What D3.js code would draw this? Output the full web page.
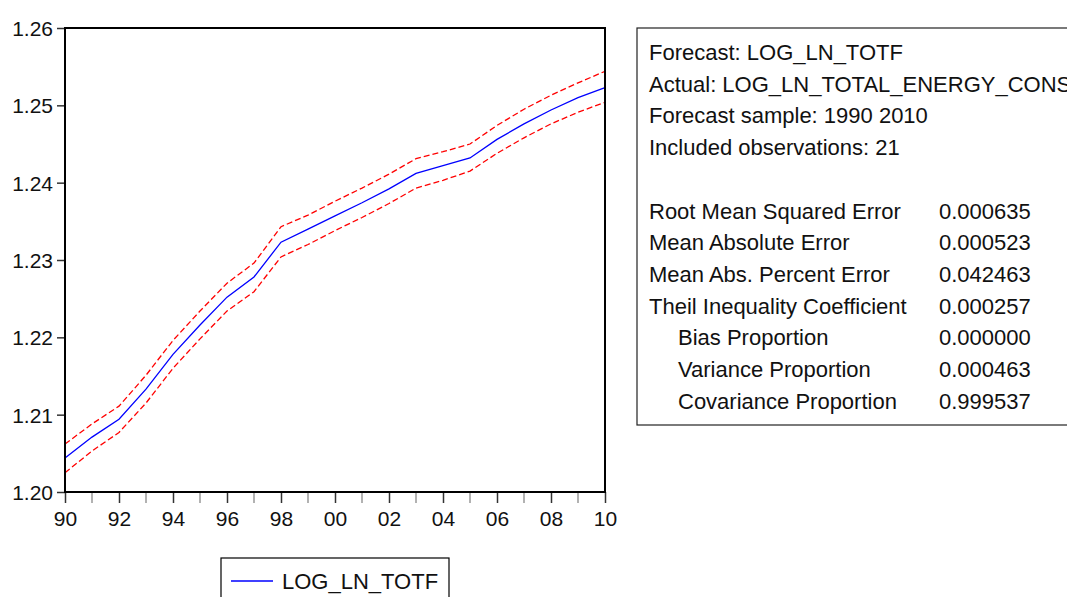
<!DOCTYPE html>
<html>
<head>
    <meta charset="utf-8">
    <title>Forecast LOG_LN_TOTF</title>
    <style>
        body { margin: 0; background: white; }
        svg { display: block; font-family: Arial, "Liberation Sans", sans-serif; }
        .axis path { display: none; }
        .axis line { stroke: #333; stroke-width: 1.5px; }
        .axis text { font-size: 21px; fill: #111; }
        .stats text { font-size: 22px; fill: #111; }
    </style>
    <script src="https://cdn.jsdelivr.net/npm/d3@7/dist/d3.min.js"></script>
</head>
<body>
    <svg width="1067" height="597"></svg>

    <script>
        // forecast and the +/- 2 S.E. band
        const years = d3.range(1990, 2011);
        const forecast = [1.2044, 1.2071, 1.2094, 1.2133, 1.2178, 1.2216, 1.2252, 1.2278, 1.2323, 1.2340, 1.2357,
            1.2374, 1.2392, 1.2412, 1.2422, 1.2432, 1.2456, 1.2476, 1.2494, 1.2510, 1.2523];
        const upper = [1.2062, 1.2088, 1.2111, 1.2151, 1.2196, 1.2234, 1.2270, 1.2296, 1.2343, 1.2358, 1.2376,
            1.2393, 1.2411, 1.2431, 1.2440, 1.2450, 1.2474, 1.2495, 1.2513, 1.2529, 1.2544];
        const lower = [1.2025, 1.2053, 1.2077, 1.2115, 1.2160, 1.2198, 1.2234, 1.2259, 1.2304, 1.2320, 1.2338,
            1.2355, 1.2373, 1.2393, 1.2403, 1.2415, 1.2438, 1.2458, 1.2476, 1.2491, 1.2504];
        const yTicks = [1.20, 1.21, 1.22, 1.23, 1.24, 1.25, 1.26];

        const headerLines = [
            "Forecast: LOG_LN_TOTF",
            "Actual: LOG_LN_TOTAL_ENERGY_CONS",
            "Forecast sample: 1990 2010",
            "Included observations: 21"
        ];
        const statNames = ["Root Mean Squared Error", "Mean Absolute Error", "Mean Abs. Percent Error",
            "Theil Inequality Coefficient", "Bias Proportion", "Variance Proportion", "Covariance Proportion"];
        const statValues = ["0.000635", "0.000523", "0.042463", "0.000257", "0.000000", "0.000463", "0.999537"];
        const statIndent = [false, false, false, false, true, true, true];

        const svg = d3.select("svg");

        const x = d3.scaleLinear().domain([1990, 2010]).range([65, 605]);
        const y = d3.scaleLinear().domain([1.20, 1.26]).range([492, 28]);

        // y axis
        const yAxis = svg.append("g")
            .attr("class", "axis")
            .attr("transform", "translate(65,0)")
            .call(d3.axisLeft(y).tickValues(yTicks).tickSize(8).tickPadding(4).tickFormat(d3.format(".2f")));
        yAxis.selectAll("text").attr("dy", "0.36em");

        // x axis, major ticks every 2 years
        const xAxis = svg.append("g")
            .attr("class", "axis")
            .attr("transform", "translate(0,492)")
            .call(d3.axisBottom(x)
                .tickValues(years.filter(d => d % 2 === 0))
                .tickSize(11).tickPadding(8)
                .tickFormat(d => String(d % 100).padStart(2, "0")));
        xAxis.selectAll("text").attr("dy", "0.71em");

        // minor ticks on odd years
        svg.append("g")
            .selectAll("line")
            .data(years.filter(d => d % 2 === 1))
            .join("line")
            .attr("x1", d => x(d)).attr("x2", d => x(d))
            .attr("y1", 492).attr("y2", 503)
            .attr("stroke", "#999")
            .attr("stroke-width", 1.5);

        const line = d3.line().x((d, i) => x(years[i])).y(d => y(d));

        svg.append("path")
            .datum(upper)
            .attr("d", line)
            .attr("fill", "none")
            .attr("stroke", "#ff0000")
            .attr("stroke-width", 1.3)
            .attr("stroke-dasharray", "6,3");

        svg.append("path")
            .datum(lower)
            .attr("d", line)
            .attr("fill", "none")
            .attr("stroke", "#ff0000")
            .attr("stroke-width", 1.3)
            .attr("stroke-dasharray", "6,3");

        svg.append("path")
            .datum(forecast)
            .attr("d", line)
            .attr("fill", "none")
            .attr("stroke", "#0000ff")
            .attr("stroke-width", 1.3);

        // plot frame
        svg.append("rect")
            .attr("x", x(1990)).attr("y", y(1.26))
            .attr("width", x(2010) - x(1990))
            .attr("height", y(1.20) - y(1.26))
            .attr("fill", "none")
            .attr("stroke", "#000")
            .attr("stroke-width", 2);

        // legend
        const legend = svg.append("g").attr("transform", "translate(221,558)");
        legend.append("rect")
            .attr("width", 228).attr("height", 60)
            .attr("fill", "white")
            .attr("stroke", "#000")
            .attr("stroke-width", 1.2);
        legend.append("line")
            .attr("x1", 10).attr("x2", 52)
            .attr("y1", 23).attr("y2", 23)
            .attr("stroke", "#0000ff")
            .attr("stroke-width", 1.3);
        legend.append("text")
            .attr("x", 61).attr("y", 31)
            .attr("font-size", 22)
            .attr("fill", "#111")
            .text("LOG_LN_TOTF");

        // statistics box
        const stats = svg.append("g").attr("class", "stats");
        stats.append("rect")
            .attr("x", 637).attr("y", 28)
            .attr("width", 460).attr("height", 397)
            .attr("fill", "white")
            .attr("stroke", "#222")
            .attr("stroke-width", 1.2);

        const lineGap = 31.7;
        stats.selectAll(".head")
            .data(headerLines)
            .join("text")
            .attr("class", "head")
            .attr("x", 649)
            .attr("y", (d, i) => 60 + i * lineGap)
            .text(d => d);

        stats.selectAll(".name")
            .data(statNames)
            .join("text")
            .attr("class", "name")
            .attr("x", (d, i) => statIndent[i] ? 678 : 649)
            .attr("y", (d, i) => 60 + (i + 5) * lineGap)
            .text(d => d);

        stats.selectAll(".val")
            .data(statValues)
            .join("text")
            .attr("class", "val")
            .attr("x", 939)
            .attr("y", (d, i) => 60 + (i + 5) * lineGap)
            .text(d => d);
    </script>
</body>
</html>
